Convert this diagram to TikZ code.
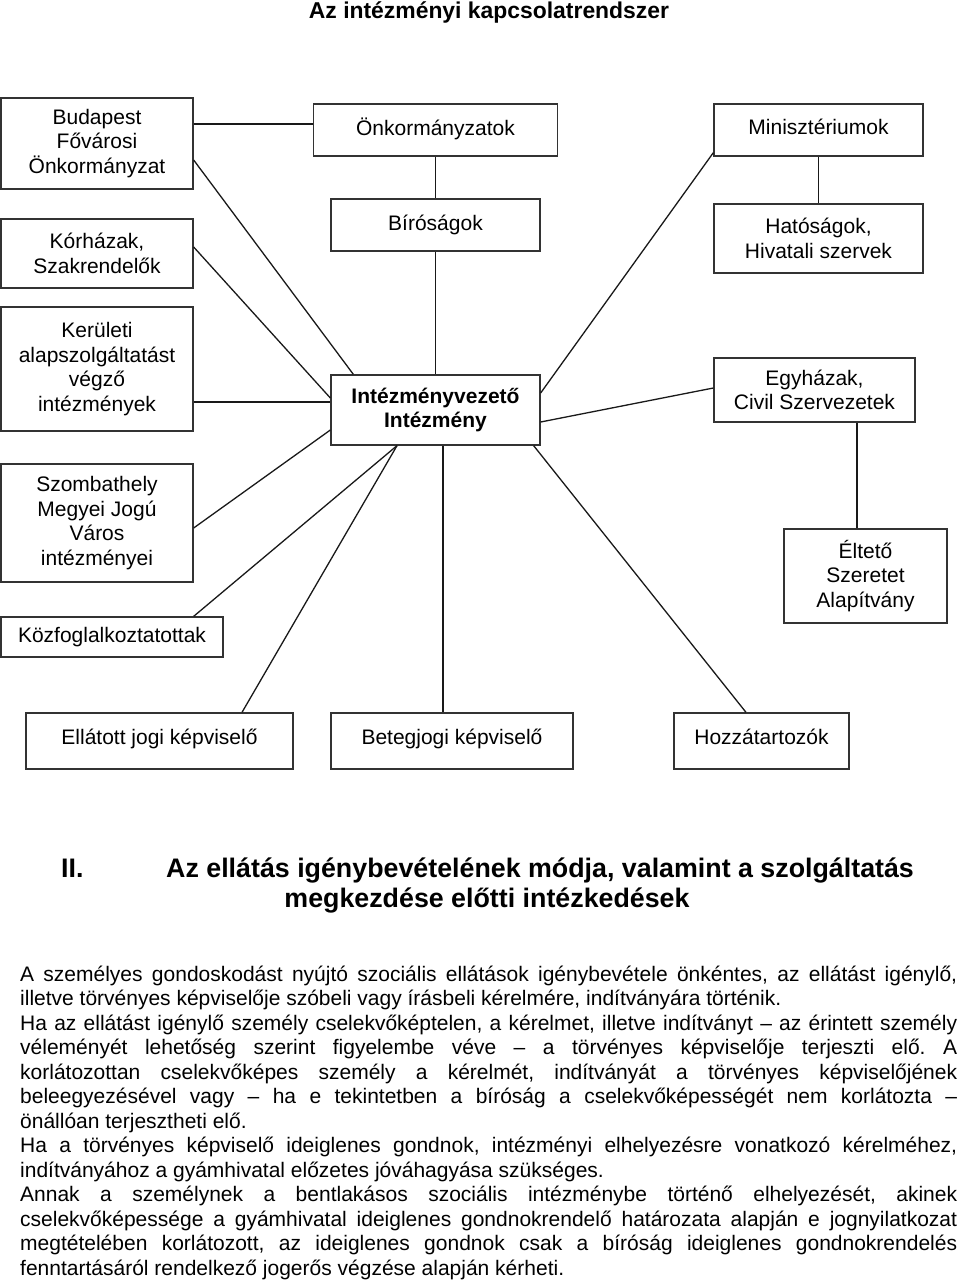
\documentclass[tikz,border=0pt]{standalone}
\usepackage{fontspec}
\setmainfont{Liberation Sans}
\begin{document}
\begin{tikzpicture}[x=1pt,y=-1pt,
  box/.style={draw=black!80, line width=1.3pt, inner sep=0pt, align=center,
    font=\fontsize{21}{24.5}\selectfont},
  conn/.style={draw=black!90, line width=1.3pt},
  hfont/.style={font=\bfseries\fontsize{26.8}{30}\selectfont, inner sep=0pt}]
\fill[white] (0,0) rectangle (960,1282);
\useasboundingbox (0,0) rectangle (960,1282);

\node[font=\bfseries\fontsize{22.9}{27}\selectfont, inner sep=0pt, anchor=base] (title) at (489,18) {Az intézményi kapcsolatrendszer};

% left column
\node[box, minimum width=192pt, minimum height=91pt] (bud) at (97,143.5) {Budapest\\Fővárosi\\Önkormányzat};
\node[box, minimum width=192pt, minimum height=69pt] (kor) at (97,253.5) {Kórházak,\\Szakrendelők};
\node[box, minimum width=192pt, minimum height=124pt] (ker) at (97,369) {Kerületi\\alapszolgáltatást\\végző\\intézmények};
\node[box, minimum width=192pt, minimum height=118pt] (szo) at (97,523) {Szombathely\\Megyei Jogú\\Város\\intézményei};
\node[box, minimum width=222pt, minimum height=40pt] (kozf) at (112,637) {Közfoglalkoztatottak};

% middle column
\node[box, minimum width=244pt, minimum height=52pt] (onk) at (435.5,130) {\raisebox{6pt}{Önkormányzatok}};
\node[box, minimum width=209pt, minimum height=52pt] (bir) at (435.5,225) {\raisebox{5pt}{Bíróságok}};
\node[box, minimum width=209pt, minimum height=70pt, font=\bfseries\fontsize{21}{24.5}\selectfont] (ivez) at (435.5,410) {Intézményvezető\\Intézmény};

% right column
\node[box, minimum width=209pt, minimum height=52pt] (mini) at (818.5,130) {\raisebox{6pt}{Minisztériumok}};
\node[box, minimum width=209pt, minimum height=69pt] (hat) at (818.5,238.5) {Hatóságok,\\Hivatali szervek};
\node[box, minimum width=201pt, minimum height=64pt] (egy) at (814.5,390) {Egyházak,\\Civil Szervezetek};
\node[box, minimum width=163pt, minimum height=94pt] (elt) at (865.5,576) {Éltető\\Szeretet\\Alapítvány};

% bottom row
\node[box, minimum width=267pt, minimum height=56pt] (ell) at (159.5,741) {\raisebox{8pt}{Ellátott jogi képviselő}};
\node[box, minimum width=242pt, minimum height=56pt] (bet) at (452,741) {\raisebox{8pt}{Betegjogi képviselő}};
\node[box, minimum width=175pt, minimum height=56pt] (hoz) at (761.5,741) {\raisebox{8pt}{Hozzátartozók}};

% connectors
\draw[conn] ([yshift=19.5pt]bud.east) coordinate (b0) -- (b0 -| onk.west);
\draw[conn] (onk.south) -- (bir.north);
\draw[conn] (bir.south) -- (ivez.north);
\draw[conn] ([yshift=-16.5pt]bud.east) -- ([xshift=23pt]ivez.north west);
\draw[conn] ([yshift=6.5pt]kor.east) -- ([yshift=12pt]ivez.west);
\draw[conn] ([yshift=-33pt]ker.east) coordinate (k0) -- (k0 -| ivez.west);
\draw[conn] ([yshift=-5pt]szo.east) -- ([yshift=-20pt]ivez.west);
\draw[conn] ([xshift=-30pt]kozf.north east) -- ([xshift=-38.5pt]ivez.south);
\draw[conn] ([xshift=82.5pt]ell.north) -- ([xshift=-38.5pt]ivez.south);
\draw[conn] ([xshift=7.5pt]ivez.south) coordinate (v0) -- (v0 |- bet.north);
\draw[conn] ([xshift=-15.5pt]hoz.north) -- ([xshift=-7pt]ivez.south east);
\draw[conn] ([yshift=17pt]ivez.east) -- ([yshift=4pt]mini.south west);
\draw[conn] ([yshift=-12pt]ivez.east) -- ([yshift=2pt]egy.west);
\draw[conn] (mini.south) -- (hat.north);
\draw[conn] ([xshift=-8.5pt]elt.north) coordinate (e0) -- (e0 |- egy.south);

% heading
\node[hfont, anchor=base west] (num) at (61,877) {II.};
\node[hfont, anchor=base west] (h1) at (166,877) {Az ellátás igénybevételének módja, valamint a szolgáltatás};
\node[hfont, anchor=base] (h2) at (487,907) {megkezdése előtti intézkedések};

% body text
\node[anchor=north west, inner sep=0pt, text width=937pt, align=justify,
  font=\fontsize{21}{24.5}\selectfont] (body) at (20,965) {%
\frenchspacing\hyphenpenalty=10000 \exhyphenpenalty=10000 \tolerance=10000 \parindent=0pt
\rule{0pt}{16pt}A személyes gondoskodást nyújtó szociális ellátások igénybevétele önkéntes, az ellátást igénylő, \linebreak
illetve törvényes képviselője szóbeli vagy írásbeli kérelmére, indítványára történik.\par
Ha az ellátást igénylő személy cselekvőképtelen, a kérelmet, illetve indítványt – az érintett személy \linebreak
véleményét lehetőség szerint figyelembe véve – a törvényes képviselője terjeszti elő. A \linebreak
korlátozottan cselekvőképes személy a kérelmét, indítványát a törvényes képviselőjének \linebreak
beleegyezésével vagy – ha e tekintetben a bíróság a cselekvőképességét nem korlátozta – \linebreak
önállóan terjesztheti elő.\par
Ha a törvényes képviselő ideiglenes gondnok, intézményi elhelyezésre vonatkozó kérelméhez, \linebreak
indítványához a gyámhivatal előzetes jóváhagyása szükséges.\par
Annak a személynek a bentlakásos szociális intézménybe történő elhelyezését, akinek \linebreak
cselekvőképessége a gyámhivatal ideiglenes gondnokrendelő határozata alapján e jognyilatkozat \linebreak
megtételében korlátozott, az ideiglenes gondnok csak a bíróság ideiglenes gondnokrendelés \linebreak
fenntartásáról rendelkező jogerős végzése alapján kérheti.\par};
\end{tikzpicture}
\end{document}
